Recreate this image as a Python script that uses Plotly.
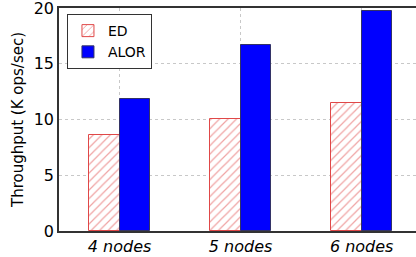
import plotly.graph_objects as go

categories = ["4 nodes", "5 nodes", "6 nodes"]
ed_values = [8.6, 10.05, 11.45]
alor_values = [11.85, 16.65, 19.75]
y_ticks = [0, 5, 10, 15, 20]

xpos = list(range(len(categories)))

fig = go.Figure()
fig.add_trace(go.Bar(
    x=xpos, y=ed_values, name="ED", width=0.25, offset=-0.25,
    marker=dict(color="white", line=dict(color="#e04848", width=1),
                pattern=dict(shape="/", fgcolor="#e04848", bgcolor="white", size=6, solidity=0.2)),
))
fig.add_trace(go.Bar(
    x=xpos, y=alor_values, name="ALOR", width=0.25, offset=0,
    marker=dict(color="#0000ff", line=dict(color="#333366", width=1)),
))

font_family = "DejaVu Sans"
fig.update_layout(
    width=421, height=257,
    margin=dict(l=59, r=0, t=8, b=26),
    plot_bgcolor="white", paper_bgcolor="white",
    font=dict(family=font_family, size=16, color="black"),
    showlegend=True,
    legend=dict(x=0.022, y=0.973, xanchor="left", yanchor="top",
                bordercolor="#333333", borderwidth=1, bgcolor="white",
                font=dict(size=14), tracegroupgap=2, itemwidth=30),
    bargap=0, barmode="overlay",
)
fig.update_xaxes(
    range=[-0.5, 2.49], tickmode="array", tickvals=xpos,
    ticktext=["<i>%s</i>" % c for c in categories],
    showgrid=True, gridcolor="#c8c8c8", griddash="dot", gridwidth=1,
    showline=True, linecolor="#333333", linewidth=1.5, mirror=True,
    ticks="", tickfont=dict(size=16), zeroline=False, automargin=False,
)
fig.update_yaxes(
    range=[0, 20], tickvals=y_ticks,
    showgrid=True, gridcolor="#c8c8c8", griddash="dot", gridwidth=1,
    showline=True, linecolor="#333333", linewidth=1.5,
    ticks="", tickfont=dict(size=16), zeroline=False, automargin=False,
    ticklabeloverflow="allow",
    title=dict(text="Throughput (K ops/sec)", font=dict(size=15), standoff=6),
)
fig.write_html("out.html", config={"displayModeBar": False},
               post_script="document.body.style.margin='0';document.body.style.overflow='hidden';")
